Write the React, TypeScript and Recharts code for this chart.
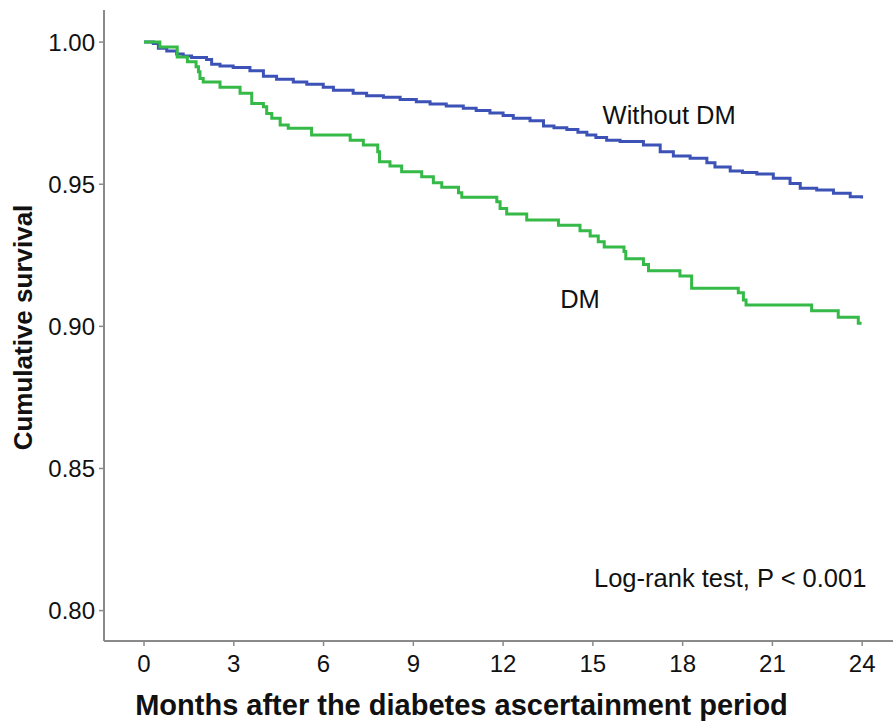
import React from 'react';
import {
  ComposedChart,
  Line,
  XAxis,
  YAxis,
  ReferenceDot,
  Label,
} from 'recharts';

// Kaplan-Meier steps (months, cumulative survival)
const noDmMonths = [
  0, 0.31, 0.48, 0.76, 1.09, 1.31, 1.59, 2.09, 2.26, 2.54, 2.98, 3.54, 3.99, 4.43, 4.99,
  5.44, 5.99, 6.33, 6.99, 7.44, 8.0, 8.56, 9.1, 9.56, 10.1, 10.67, 11.1, 11.56, 12.0,
  12.34, 12.9, 13.35, 13.7, 14.13, 14.5, 14.8, 15.1, 15.46, 15.91, 16.69, 17.25, 17.69,
  18.25, 18.81, 19.08, 19.59, 20.0, 20.48, 21.03, 21.59, 21.93, 22.48, 23.04, 23.6, 23.98,
];
const noDmSurv = [
  1.0, 0.9995, 0.9978, 0.9969, 0.9958, 0.9951, 0.9946, 0.9939, 0.9922, 0.9916, 0.9911,
  0.9899, 0.988, 0.9869, 0.986, 0.9852, 0.9841, 0.9831, 0.982, 0.9811, 0.9806, 0.9798,
  0.979, 0.9782, 0.9775, 0.9767, 0.9759, 0.9751, 0.9742, 0.9732, 0.9723, 0.9705, 0.9699,
  0.9693, 0.9683, 0.9673, 0.9664, 0.9655, 0.965, 0.9638, 0.9614, 0.9599, 0.9591, 0.9576,
  0.9561, 0.9547, 0.9541, 0.9536, 0.9521, 0.9503, 0.9486, 0.948, 0.9468, 0.9456, 0.945,
];

const dmMonths = [
  0, 0.53, 1.11, 1.45, 1.74, 1.82, 1.87, 1.98, 2.54, 3.21, 3.6, 3.99, 4.1, 4.27, 4.55,
  4.82, 5.6, 6.89, 7.33, 7.81, 7.87, 8.22, 8.61, 9.28, 9.67, 9.95, 10.51, 10.62, 11.79,
  11.9, 12.12, 12.79, 13.85, 14.57, 14.91, 15.18, 15.38, 16.04, 16.1, 16.69, 16.86, 17.91,
  18.3, 19.86, 20.03, 20.12, 22.31, 23.2, 23.87, 23.98,
];
const dmSurv = [
  1.0, 0.9983, 0.9948, 0.9931, 0.9913, 0.9896, 0.9872, 0.986, 0.9841, 0.982, 0.9784,
  0.9773, 0.9749, 0.9732, 0.9708, 0.9697, 0.9673, 0.9655, 0.9638, 0.9614, 0.9579, 0.9564,
  0.9544, 0.9526, 0.9505, 0.9489, 0.947, 0.9454, 0.9438, 0.9415, 0.9395, 0.9374, 0.9356,
  0.9336, 0.9318, 0.9298, 0.9279, 0.9263, 0.9238, 0.9218, 0.9196, 0.9177, 0.9134, 0.9118,
  0.9093, 0.9075, 0.9055, 0.9032, 0.9011, 0.9011,
];

const xTicks = [0, 3, 6, 9, 12, 15, 18, 21, 24];
const yTicks = [0.8, 0.85, 0.9, 0.95, 1.0];

const noDmData = noDmMonths.map((m, i) => ({ m, s: noDmSurv[i] }));
const dmData = dmMonths.map((m, i) => ({ m, s: dmSurv[i] }));

const FONT = '"Liberation Sans", Arial, sans-serif';
const FRAME = '#8a8a8a';

const YTitle = (props: any) => {
  const vb = props.viewBox;
  const x = vb.x + 23;
  const y = vb.y + vb.height / 2 + 2;
  return (
    <text
      x={x}
      y={y}
      transform={`rotate(-90, ${x}, ${y})`}
      textAnchor="middle"
      dominantBaseline="central"
      fontFamily={FONT}
      fontWeight="bold"
      fontSize={26}
      fill="#111"
    >
      Cumulative survival
    </text>
  );
};

const XTitle = (props: any) => {
  const vb = props.viewBox;
  return (
    <text
      x={vb.x + vb.width / 2 - 37}
      y={vb.y + 74}
      textAnchor="middle"
      fontFamily={FONT}
      fontWeight="bold"
      fontSize={29}
      fill="#111"
    >
      Months after the diabetes ascertainment period
    </text>
  );
};

export default function App() {
  return (
    <div style={{ position: 'fixed', left: 0, top: 0, width: 893, height: 722, background: '#fff' }}>
      <ComposedChart
        width={893}
        height={722}
        margin={{ top: 10, right: 0, bottom: 21, left: 0 }}
        style={{ fontFamily: FONT }}
      >
        <XAxis
          type="number"
          dataKey="m"
          domain={[-1.337, 25.03]}
          allowDataOverflow
          ticks={xTicks}
          height={60}
          tickSize={5}
          tickMargin={9}
          axisLine={{ stroke: FRAME, strokeWidth: 2 }}
          tickLine={{ stroke: FRAME, strokeWidth: 1.5 }}
          tick={{ fill: '#111', fontSize: 24 }}
        >
          <Label content={XTitle} />
        </XAxis>
        <XAxis
          xAxisId="top"
          orientation="top"
          type="number"
          domain={[-1.337, 25.03]}
          height={0}
          tick={false}
          tickLine={false}
          axisLine={{ stroke: FRAME, strokeWidth: 2 }}
        />
        <YAxis
          type="number"
          domain={[0.7893, 1.0113]}
          allowDataOverflow
          ticks={yTicks}
          width={104}
          tickSize={5}
          tickMargin={4}
          tickFormatter={(v: number) => v.toFixed(2)}
          axisLine={{ stroke: FRAME, strokeWidth: 2 }}
          tickLine={{ stroke: FRAME, strokeWidth: 1.5 }}
          tick={{ fill: '#111', fontSize: 24 }}
        >
          <Label content={YTitle} />
        </YAxis>
        <Line
          data={noDmData}
          dataKey="s"
          type="stepAfter"
          stroke="#3d52b6"
          strokeWidth={3}
          dot={false}
          isAnimationActive={false}
        />
        <Line
          data={dmData}
          dataKey="s"
          type="stepAfter"
          stroke="#35b947"
          strokeWidth={3}
          dot={false}
          isAnimationActive={false}
        />
        <ReferenceDot
          x={17.55}
          y={0.9743}
          r={0}
          fill="none"
          stroke="none"
          label={{ value: 'Without DM', position: 'center', fill: '#111', fontSize: 25.5 }}
        />
        <ReferenceDot
          x={14.57}
          y={0.9096}
          r={0}
          fill="none"
          stroke="none"
          label={{ value: 'DM', position: 'center', fill: '#111', fontSize: 25.5 }}
        />
        <ReferenceDot
          x={19.59}
          y={0.8115}
          r={0}
          fill="none"
          stroke="none"
          label={{ value: 'Log-rank test, P < 0.001', position: 'center', fill: '#111', fontSize: 25.5 }}
        />
      </ComposedChart>
    </div>
  );
}
